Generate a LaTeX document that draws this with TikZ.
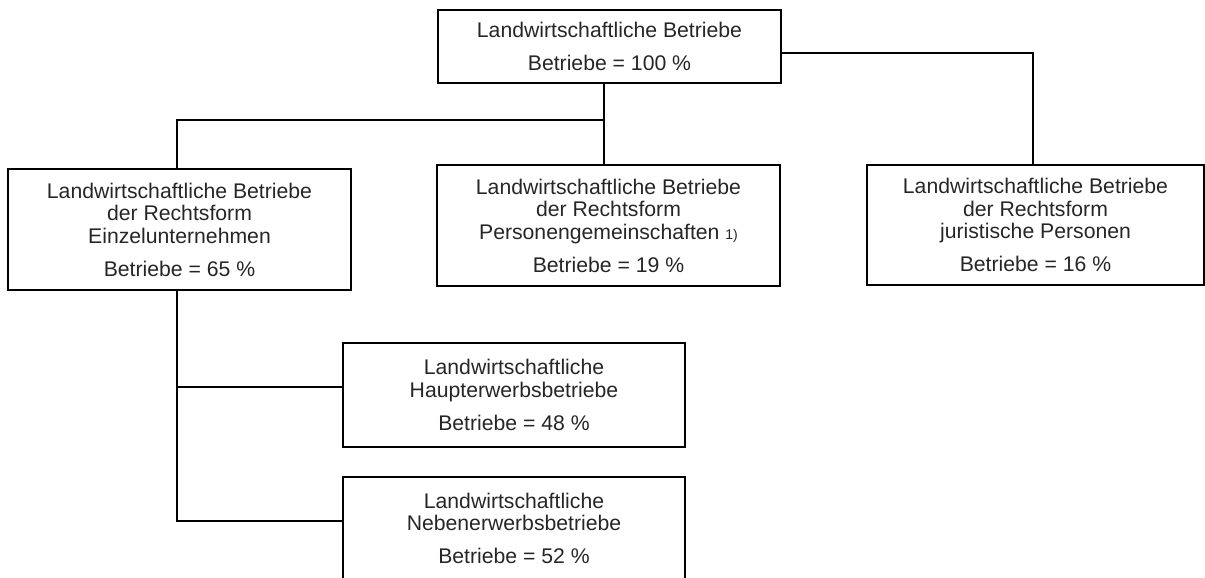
\documentclass[tikz,border=0pt]{standalone}
\usepackage{fontspec}
\setmainfont{Liberation Sans}
\begin{document}
\begin{tikzpicture}[x=0.5pt,y=-0.5pt,
  box/.style={draw=black,line width=1pt,inner sep=0pt,align=center,text=black!85,
    font=\fontsize{10.6}{11.25}\selectfont},
  conn/.style={draw=black,line width=1pt}]
\useasboundingbox (0,0) rectangle (1205,578);
\clip (0,0) rectangle (1205,578);
\node[box,minimum width=171.5pt,minimum height=36.5pt] (top) at (609.5,46.5)
  {Landwirtschaftliche Betriebe\\[5.25pt]Betriebe = 100 \%};
\node[box,minimum width=171.5pt,minimum height=60.5pt] (left) at (179.5,229.5)
  {Landwirtschaftliche Betriebe\\der Rechtsform\\Einzelunternehmen\\[5.25pt]Betriebe = 65 \%};
\node[box,minimum width=171.5pt,minimum height=60.5pt] (mid) at (608.5,225.5)
  {Landwirtschaftliche Betriebe\\der Rechtsform\\Personengemeinschaften {\fontsize{7}{8}\selectfont 1)}\\[5.25pt]Betriebe = 19 \%};
\node[box,minimum width=168.5pt,minimum height=60pt] (right) at (1035.5,225)
  {Landwirtschaftliche Betriebe\\der Rechtsform\\juristische Personen\\[5.25pt]Betriebe = 16 \%};
\node[box,minimum width=171pt,minimum height=52pt] (haupt) at (514,395)
  {Landwirtschaftliche\\Haupterwerbsbetriebe\\[5.25pt]Betriebe = 48 \%};
\node[box,minimum width=171pt,minimum height=51.5pt] (neben) at (514,528.5)
  {Landwirtschaftliche\\Nebenerwerbsbetriebe\\[5.25pt]Betriebe = 52 \%};
\coordinate (jx) at (604,120);
\coordinate (lx) at (177,120);
\coordinate (rt) at (1033,53);
\coordinate (hb) at (177,387);
\coordinate (lb) at (177,521);
\draw[conn] (top.south -| jx) -- (mid.north -| jx);
\draw[conn] (jx) -- (lx) -- (left.north -| lx);
\draw[conn] (top.east |- rt) -- (rt) -- (right.north -| rt);
\draw[conn] (left.south -| lb) -- (lb) -- (neben.west |- lb);
\draw[conn] (hb) -- (haupt.west |- hb);
\end{tikzpicture}
\end{document}
